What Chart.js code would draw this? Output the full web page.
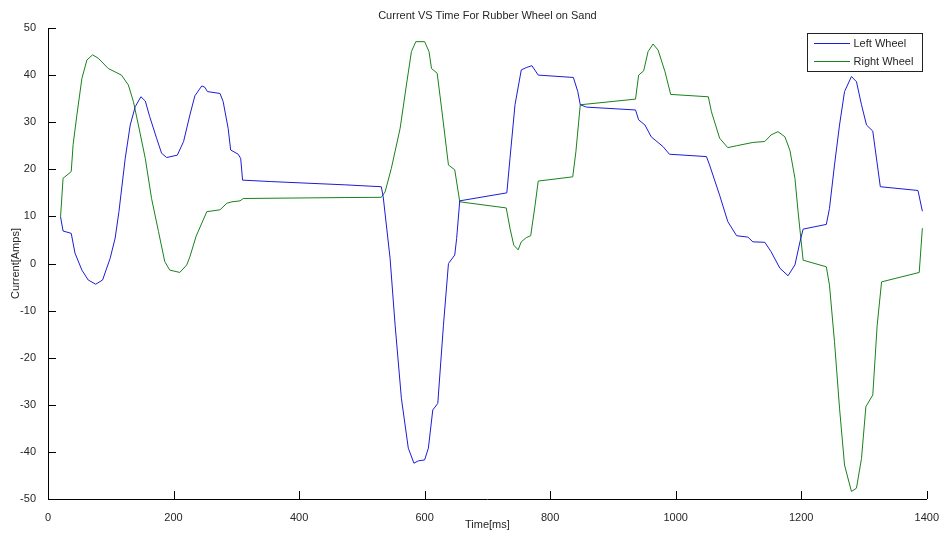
<!DOCTYPE html>
<html>
<head>
<meta charset="utf-8">
<title>Current VS Time For Rubber Wheel on Sand</title>
<script src="https://cdn.jsdelivr.net/npm/chart.js@4.4.1/dist/chart.umd.min.js"></script>
<style>
    html, body { margin: 0; padding: 0; background: #fff; }
    canvas { display: block; }
</style>
</head>
<body>
<canvas id="currentChart" width="943" height="536"></canvas>
<script>
// --- 1. Data ---
const leftTime = [20, 24, 37, 43, 54, 64, 76, 87, 99, 107, 113, 123, 131, 139, 148, 155, 162, 173, 181, 189,
    206, 216, 226, 234, 245, 250, 254, 274, 279, 287, 291, 303, 307, 310, 354, 473, 531, 534, 545, 553,
    563, 574, 583, 590, 600, 606, 613, 621, 630, 638, 648, 651, 656, 731, 736, 744, 754, 762, 771, 781,
    837, 844, 848, 858, 936, 941, 951, 961, 980, 990, 1049, 1054, 1070, 1083, 1097, 1115, 1123, 1142, 1152, 1166,
    1179, 1190, 1198, 1203, 1240, 1245, 1253, 1261, 1269, 1280, 1288, 1296, 1304, 1314, 1326, 1386, 1393];
const leftCurrent = [9.9, 6.9, 6.4, 2.2, -1.4, -3.5, -4.4, -3.5, 1.1, 5.4, 11, 22.3, 29.4, 33.3, 35.4, 34.5, 31.2, 26.6, 23.4, 22.5,
    23, 25.9, 31.5, 35.6, 37.7, 37.4, 36.5, 36.1, 34.4, 28.7, 24.1, 23.2, 22.3, 17.7, 17.4, 16.7, 16.3, 14.2, 1.1, -13.1,
    -28.6, -39.2, -42.4, -41.9, -41.7, -39.2, -31.1, -29.7, -13.1, 0, 1.8, 5.3, 13.3, 15, 22.3, 33.7, 41.1, 41.6, 42, 40,
    39.5, 36.5, 33.7, 33.2, 32.6, 30.5, 29.4, 26.9, 24.8, 23.2, 22.7, 20.9, 14.5, 8.9, 5.9, 5.6, 4.6, 4.5, 2.5, -1,
    -2.6, -0.3, 4.6, 7.3, 8.3, 11.7, 20.9, 29.4, 36.5, 39.7, 38.6, 33.7, 29.4, 28.1, 16.3, 15.5, 11.1];

const rightTime = [20, 24, 37, 40, 46, 54, 62, 71, 80, 96, 117, 128, 136, 144, 155, 165, 176, 186, 194, 210,
    221, 226, 236, 253, 274, 285, 293, 306, 311, 473, 531, 537, 547, 561, 571, 579, 586, 600, 607, 611,
    620, 627, 638, 648, 656, 730, 736, 742, 749, 754, 762, 769, 776, 781, 836, 841, 848, 936, 941, 949,
    956, 964, 972, 983, 992, 1052, 1057, 1070, 1083, 1097, 1123, 1142, 1152, 1163, 1174, 1182, 1190, 1195, 1200, 1203,
    1240, 1245, 1253, 1261, 1269, 1280, 1288, 1296, 1303, 1314, 1321, 1328, 1388, 1393];
const rightCurrent = [9.9, 18.1, 19.5, 25.2, 31.5, 39.3, 43.2, 44.3, 43.6, 41.4, 40, 37.9, 34.4, 29.4, 22.3, 13.8, 6.8, 0.4, -1.4, -1.9,
    -0.3, 1.4, 5.8, 11, 11.4, 12.8, 13.1, 13.3, 13.8, 14, 14.05, 15.2, 20.2, 28.7, 37.9, 45, 47.1, 47.1, 45, 41.4,
    40.4, 33, 20.9, 19.9, 13.1, 11.8, 7.5, 3.9, 2.9, 4.6, 5.5, 5.9, 12.4, 17.5, 18.4, 23.7, 33.7, 34.9, 40, 40.9,
    45, 46.6, 45.3, 40.7, 35.9, 35.4, 32.2, 26.6, 24.6, 25, 25.7, 25.9, 27.3, 28, 26.9, 24, 18.1, 11, 4.6, 0.7,
    -0.7, -4.6, -16.6, -30.7, -42.8, -48.4, -47.7, -41.4, -30.4, -27.9, -13.1, -3.9, -1.9, 7.5];

const seriesNames = ['Left Wheel', 'Right Wheel'];
const xTicks = [0, 200, 400, 600, 800, 1000, 1200, 1400];
const yTicks = [-50, -40, -30, -20, -10, 0, 10, 20, 30, 40, 50];

// --- 2. Style ---
const FONT = '"Liberation Sans", Arial, sans-serif';
const TEXT_COLOR = '#262626';
const seriesColors = ['#1c1cd4', '#1a801c'];

const toPoints = (xs, ys) => xs.map((x, i) => ({ x: x, y: ys[i] }));

// --- 3. Plugins: MATLAB-style inward ticks and boxed legend ---
const inwardTicks = {
    id: 'inwardTicks',
    afterDatasetsDraw(chart) {
        const { ctx, chartArea, scales } = chart;
        ctx.save();
        ctx.strokeStyle = '#000';
        ctx.lineWidth = 1;
        ctx.beginPath();
        scales.x.ticks.forEach((t, i) => {
            const px = Math.round(scales.x.getPixelForTick(i)) + 0.5;
            ctx.moveTo(px, chartArea.bottom);
            ctx.lineTo(px, chartArea.bottom - 8);
        });
        scales.y.ticks.forEach((t, i) => {
            const py = Math.round(scales.y.getPixelForTick(i)) + 0.5;
            ctx.moveTo(chartArea.left, py);
            ctx.lineTo(chartArea.left + 8, py);
        });
        ctx.stroke();
        ctx.restore();
    }
};

const boxLegend = {
    id: 'boxLegend',
    afterDraw(chart) {
        const { ctx, chartArea } = chart;
        ctx.save();
        ctx.font = '11px ' + FONT;
        const textW = Math.max(...seriesNames.map(n => ctx.measureText(n).width));
        const w = Math.round(7 + 36 + 4 + textW + 8);
        const h = 38;
        const x0 = Math.round(chartArea.right - 5 - w);
        const y0 = Math.round(chartArea.top + 5);
        ctx.fillStyle = '#fff';
        ctx.fillRect(x0, y0, w, h);
        ctx.strokeStyle = '#222';
        ctx.lineWidth = 1;
        ctx.strokeRect(x0 + 0.5, y0 + 0.5, w, h);
        seriesNames.forEach((name, i) => {
            const y = y0 + 10.5 + i * 18;
            ctx.strokeStyle = seriesColors[i];
            ctx.beginPath();
            ctx.moveTo(x0 + 7, y);
            ctx.lineTo(x0 + 43, y);
            ctx.stroke();
            ctx.fillStyle = TEXT_COLOR;
            ctx.textBaseline = 'middle';
            ctx.textAlign = 'left';
            ctx.fillText(name, x0 + 46.5, y);
        });
        ctx.restore();
    }
};

// --- 4. Chart ---
new Chart(document.getElementById('currentChart'), {
    type: 'line',
    data: {
        datasets: [{
            label: seriesNames[0],
            data: toPoints(leftTime, leftCurrent),
            borderColor: seriesColors[0],
            borderWidth: 1,
            pointRadius: 0,
            tension: 0,
            fill: false
        }, {
            label: seriesNames[1],
            data: toPoints(rightTime, rightCurrent),
            borderColor: seriesColors[1],
            borderWidth: 1,
            pointRadius: 0,
            tension: 0,
            fill: false
        }]
    },
    options: {
        responsive: false,
        animation: false,
        devicePixelRatio: 1,
        layout: { padding: { left: 0, right: 16, top: 0, bottom: 0 } },
        scales: {
            x: {
                type: 'linear',
                min: 0,
                max: 1400,
                afterBuildTicks: (scale) => { scale.ticks = xTicks.map(v => ({ value: v })); },
                afterFit: (scale) => { scale.height = 37; },
                grid: { display: false },
                border: { display: true, color: '#000', width: 1 },
                ticks: { color: TEXT_COLOR, font: { family: FONT, size: 11 }, padding: 4, maxRotation: 0,
                    callback: (v) => String(v) },
                title: { display: true, text: 'Time[ms]', color: TEXT_COLOR, font: { family: FONT, size: 11 }, padding: { top: 0, bottom: 4.5 } }
            },
            y: {
                type: 'linear',
                min: -50,
                max: 50,
                afterBuildTicks: (scale) => { scale.ticks = yTicks.map(v => ({ value: v })); },
                afterFit: (scale) => { scale.width = 48; },
                grid: { display: false },
                border: { display: true, color: '#000', width: 1 },
                ticks: { color: TEXT_COLOR, font: { family: FONT, size: 11 }, padding: 4,
                    callback: (v) => String(v) },
                title: { display: true, text: 'Current[Amps]', color: TEXT_COLOR, font: { family: FONT, size: 11 }, padding: { top: 9, bottom: 0 } }
            }
        },
        plugins: {
            legend: { display: false },
            tooltip: { enabled: false },
            title: {
                display: true,
                fullSize: false,
                text: 'Current VS Time For Rubber Wheel on Sand',
                color: TEXT_COLOR,
                font: { family: FONT, size: 11, weight: 'normal' },
                padding: { top: 9, bottom: 5.8 }
            }
        }
    },
    plugins: [inwardTicks, boxLegend]
});
</script>
</body>
</html>
